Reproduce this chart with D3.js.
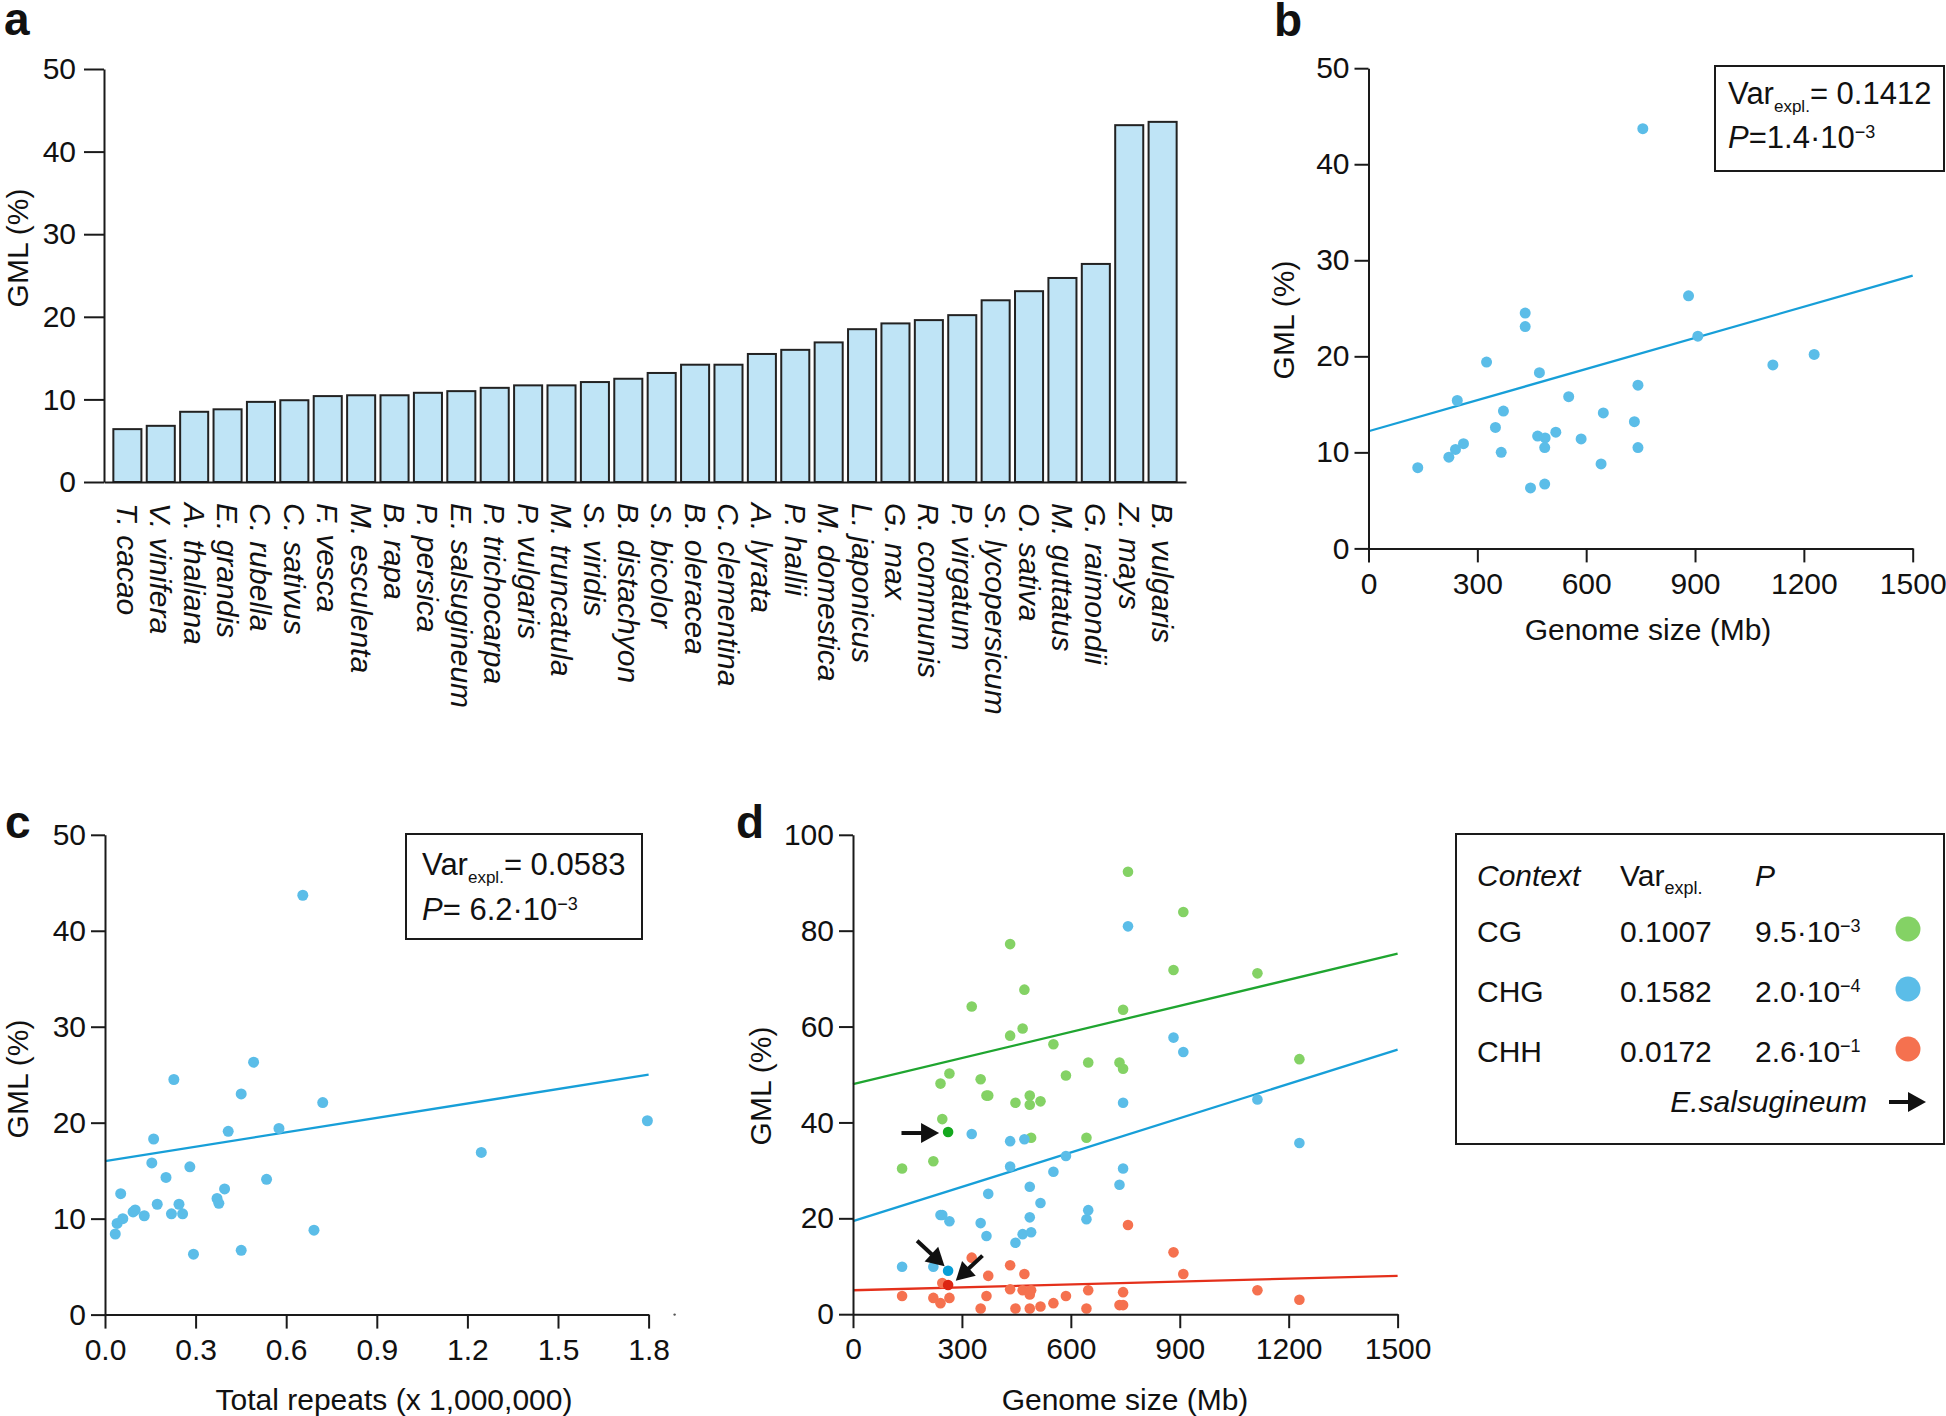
<!DOCTYPE html>
<html><head><meta charset="utf-8">
<script src="https://cdn.jsdelivr.net/npm/d3@7"></script>
<style>
body{margin:0;background:#fff;}
svg{display:block;background:#fff;}
</style></head><body>
<svg id="fig" width="1946" height="1416"></svg>
<script>
// ---------- DATA ----------
const speciesA = ["T. cacao","V. vinifera","A. thaliana","E. grandis","C. rubella","C. sativus","F. vesca","M. esculenta","B. rapa","P. persica","E. salsugineum","P. trichocarpa","P. vulgaris","M. truncatula","S. viridis","B. distachyon","S. bicolor","B. oleracea","C. clementina","A. lyrata","P. hallii","M. domestica","L. japonicus","G. max","R. communis","P. virgatum","S. lycopersicum","O. sativa","M. guttatus","G. raimondii","Z. mays","B. vulgaris"];
const gmlA = [6.4,6.8,8.5,8.8,9.7,9.9,10.4,10.5,10.5,10.8,11.0,11.4,11.7,11.7,12.1,12.5,13.2,14.2,14.2,15.5,16.0,16.9,18.5,19.2,19.6,20.2,22.0,23.1,24.7,26.4,43.2,43.6];
const yTicksGML = [0,10,20,30,40,50];

const genomeB = [135.8,221.5,239.8,261.8,244.7,325.4,349.9,371.9,365.8,431.9,431.9,446.6,471.1,466.2,486.9,485.7,485.7,516.3,551.8,586.1,641.1,647.2,732.9,742.7,742.7,756.1,882.1,907.8,1114.6,1228.4];
const gmlB = [8.4,9.5,10.3,10.9,15.4,19.4,12.6,14.3,10.0,24.5,23.1,6.3,18.3,11.7,11.5,10.5,6.7,12.1,15.8,11.4,8.8,14.1,13.2,17.0,10.5,43.7,26.3,22.1,19.1,20.2];
const fitB = [[0,12.2],[1500,28.4]];
const genomeTicks = [0,300,600,900,1200,1500];

const repeatsC = [0.034,0.040,0.059,0.052,0.093,0.100,0.130,0.155,0.161,0.173,0.202,0.220,0.228,0.245,0.257,0.281,0.293,0.371,0.377,0.396,0.408,0.451,0.451,0.492,0.535,0.576,0.655,0.692,0.721,1.246,1.796];
const gmlC = [8.4,9.5,10.0,12.6,10.7,10.9,10.3,15.8,18.3,11.5,14.3,10.5,24.5,11.5,10.5,15.4,6.3,12.1,11.6,13.1,19.1,23.0,6.7,26.3,14.1,19.4,43.7,8.8,22.1,16.9,20.2];
const fitC = [[0,16.0],[1.8,25.0]];
const repeatTicks = [0,0.3,0.6,0.9,1.2,1.5,1.8];

const genomeD = [135.2,221.3,241.0,245.9,261.9,265.6,327.0,351.6,367.6,372.5,432.8,432.8,447.5,467.2,472.1,486.9,486.9,490.6,516.4,552.0,586.5,643.0,647.9,734.0,743.9,743.9,757.4,882.8,909.8,1113.9,1229.5];
const cgD  = [30.4,31.9,48.1,40.7,38.0,50.2,64.2,49.0,45.6,45.6,77.2,58.1,44.1,59.6,67.7,45.6,43.7,36.8,44.4,56.3,49.8,36.8,52.5,52.5,63.5,51.2,92.3,71.8,83.9,71.1,53.2];
const chgD = [9.9,9.9,20.7,20.7,9.05,19.4,37.6,19.0,16.3,25.1,36.1,30.8,14.9,16.7,36.5,26.6,20.2,17.1,23.2,29.7,33.0,19.8,21.7,27.0,44.1,30.4,80.9,57.7,54.7,44.8,35.7];
const chhD = [3.8,3.4,2.3,6.5,6.1,3.4,11.8,1.2,3.8,8.0,10.2,5.2,1.2,5.0,8.4,4.1,1.2,5.0,1.6,2.3,3.8,1.2,5.0,1.9,1.9,4.6,18.6,12.9,8.4,5.0,3.0];
const highlightIndex = 4; // E. salsugineum
const fitCG  = [[0,48.0],[1500,75.2]];
const fitCHG = [[0,19.4],[1500,55.2]];
const fitCHH = [[0,5.0],[1500,8.0]];
const yTicksD = [0,20,40,60,80,100];

const contexts = ["CG","CHG","CHH"];
const varExpl = ["0.1007","0.1582","0.0172"];
const pMant = ["9.5","2.0","2.6"];
const pExp = ["\u22123","\u22124","\u22121"];

// ---------- STYLE ----------
const FONT = '"Liberation Sans", Arial, Helvetica, sans-serif';
const INK = "#1a1a1a";
const barFill = "#bfe4f6";
const ptBlue = "#5bbde8", lnBlue = "#179fd8", hlBlue = "#0a9fd6";
const ptGreen = "#84d265", lnGreen = "#1fa530", hlGreen = "#14a81e";
const ptRed = "#f5714f", lnRed = "#e4301b", hlRed = "#dc2612";

const svg = d3.select("#fig").attr("font-family", FONT);
const fmtInt = d3.format("d");

function styleAxis(g, size){
  g.attr("font-family", FONT).attr("font-size", size || 30);
  g.selectAll("path,line").attr("stroke", INK).attr("stroke-width", 2);
  g.selectAll("text").attr("fill", "#111");
}
function panelLetter(t, x, y){
  svg.append("text").attr("x", x).attr("y", y).attr("font-size", 46)
    .attr("font-weight", "bold").attr("fill", "#111").text(t);
}
function yTitle(x, y, t){
  svg.append("text").attr("transform", `translate(${x},${y}) rotate(-90)`)
    .attr("text-anchor","middle").attr("font-size",30).attr("fill","#111").text(t);
}
function xTitle(x, y, t){
  svg.append("text").attr("x",x).attr("y",y)
    .attr("text-anchor","middle").attr("font-size",30).attr("fill","#111").text(t);
}
function fitLine(g, x, y, pts, color){
  g.append("line").attr("x1", x(pts[0][0])).attr("y1", y(pts[0][1]))
    .attr("x2", x(pts[1][0])).attr("y2", y(pts[1][1]))
    .attr("stroke", color).attr("stroke-width", 2.3);
}
function arrow(g, x1, y1, x2, y2){
  const dx = x2-x1, dy = y2-y1, L = Math.hypot(dx,dy), ux = dx/L, uy = dy/L;
  const hl = 18, hw = 10;
  g.append("line").attr("x1",x1).attr("y1",y1)
    .attr("x2",x2-ux*hl*0.8).attr("y2",y2-uy*hl*0.8)
    .attr("stroke","#111").attr("stroke-width",4);
  const bx = x2-ux*hl, by = y2-uy*hl;
  g.append("polygon").attr("points",
    `${x2},${y2} ${bx-uy*hw},${by+ux*hw} ${bx+uy*hw},${by-ux*hw}`).attr("fill","#111");
}
function statBox(x, y, w, h, tx, ty1, ty2, varVal, pVal, pExpo, pSep){
  svg.append("rect").attr("x",x).attr("y",y).attr("width",w).attr("height",h)
    .attr("fill","none").attr("stroke",INK).attr("stroke-width",2);
  const t1 = svg.append("text").attr("x",tx).attr("y",ty1).attr("font-size",31).attr("fill","#111");
  t1.append("tspan").text("Var");
  t1.append("tspan").attr("font-size",17).attr("dy",8).text("expl.");
  t1.append("tspan").attr("dy",-8).text("= " + varVal);
  const t2 = svg.append("text").attr("x",tx).attr("y",ty2).attr("font-size",31).attr("fill","#111");
  t2.append("tspan").attr("font-style","italic").text("P");
  t2.append("tspan").text(pSep + pVal + "\u00b710");
  t2.append("tspan").attr("font-size",18).attr("dy",-10).text(pExpo);
}

// ---------- PANEL A ----------
{
  const x = d3.scaleBand().domain(speciesA).range([104,1186]).paddingInner(0.16).paddingOuter(0.28);
  const y = d3.scaleLinear().domain([0,50]).range([482,69]);
  const g = svg.append("g");
  g.selectAll("rect").data(speciesA).join("rect")
    .attr("x", d => x(d)).attr("y", (d,i) => y(gmlA[i]))
    .attr("width", x.bandwidth()).attr("height", (d,i) => y(0)-y(gmlA[i]))
    .attr("fill", barFill).attr("stroke", "#222").attr("stroke-width", 2);
  const ay = g.append("g").attr("transform","translate(104,0)")
    .call(d3.axisLeft(y).tickValues(yTicksGML).tickSize(20).tickPadding(8).tickSizeOuter(0));
  styleAxis(ay);
  const ax = g.append("g").attr("transform",`translate(0,${y(0)})`)
    .call(d3.axisBottom(x).tickSize(0).tickSizeOuter(0).tickFormat(""));
  styleAxis(ax);
  g.selectAll("text.sp").data(speciesA).join("text").attr("class","sp")
    .attr("transform", d => `translate(${x(d)+x.bandwidth()/2},503) rotate(90)`)
    .attr("dy","0.35em").attr("font-size",30).attr("font-style","italic").attr("fill","#111")
    .text(d => d);
  panelLetter("a", 4, 35);
  yTitle(27.5, 248, "GML (%)");
}

// ---------- PANEL B ----------
{
  const x = d3.scaleLinear().domain([0,1500]).range([1368.5,1912.7]);
  const y = d3.scaleLinear().domain([0,50]).range([548.4,68.2]);
  const g = svg.append("g");
  fitLine(g, x, y, fitB, lnBlue);
  g.selectAll("circle").data(genomeB).join("circle")
    .attr("cx", d => x(d)).attr("cy", (d,i) => y(gmlB[i])).attr("r", 5.5).attr("fill", ptBlue);
  styleAxis(g.append("g").attr("transform",`translate(0,${y(0)})`)
    .call(d3.axisBottom(x).tickValues(genomeTicks).tickFormat(fmtInt).tickSize(14).tickPadding(10).tickSizeOuter(0)));
  styleAxis(g.append("g").attr("transform",`translate(${x(0)},0)`)
    .call(d3.axisLeft(y).tickValues(yTicksGML).tickSize(14).tickPadding(5).tickSizeOuter(0)));
  panelLetter("b", 1274, 36);
  yTitle(1294, 320, "GML (%)");
  xTitle(1648, 640, "Genome size (Mb)");
  statBox(1715, 66, 229, 105, 1728, 104, 148, "0.1412", "1.4", "\u22123", "=");
}

// ---------- PANEL C ----------
{
  const x = d3.scaleLinear().domain([0,1.8]).range([105,648.6]);
  const y = d3.scaleLinear().domain([0,50]).range([1314.6,834.8]);
  const g = svg.append("g");
  fitLine(g, x, y, fitC, lnBlue);
  g.selectAll("circle").data(repeatsC).join("circle")
    .attr("cx", d => x(d)).attr("cy", (d,i) => y(gmlC[i])).attr("r", 5.5).attr("fill", ptBlue);
  styleAxis(g.append("g").attr("transform",`translate(0,${y(0)})`)
    .call(d3.axisBottom(x).tickValues(repeatTicks).tickFormat(d3.format(".1f")).tickSize(14).tickPadding(10).tickSizeOuter(0)));
  styleAxis(g.append("g").attr("transform",`translate(${x(0)},0)`)
    .call(d3.axisLeft(y).tickValues(yTicksGML).tickSize(14).tickPadding(5).tickSizeOuter(0)));
  g.append("circle").attr("cx", x(1.8)+26).attr("cy", y(0)).attr("r",1.2).attr("fill","#555");
  panelLetter("c", 5, 838);
  yTitle(27.5, 1079, "GML (%)");
  xTitle(394, 1410, "Total repeats (x 1,000,000)");
  statBox(406, 834, 236, 105, 422, 875, 920, "0.0583", "6.2", "\u22123", "= ");
}

// ---------- PANEL D ----------
{
  const x = d3.scaleLinear().domain([0,1500]).range([853,1397.6]);
  const y = d3.scaleLinear().domain([0,100]).range([1314.2,834.8]);
  const g = svg.append("g");
  fitLine(g, x, y, fitCG, lnGreen);
  fitLine(g, x, y, fitCHG, lnBlue);
  fitLine(g, x, y, fitCHH, lnRed);
  const idx = d3.range(genomeD.length).filter(i => i !== highlightIndex);
  const series = [[cgD, ptGreen], [chgD, ptBlue], [chhD, ptRed]];
  series.forEach(([vals, col]) => {
    g.append("g").selectAll("circle").data(idx).join("circle")
      .attr("cx", i => x(genomeD[i])).attr("cy", i => y(vals[i])).attr("r", 5.3).attr("fill", col);
  });
  // highlighted E. salsugineum
  const hx = x(genomeD[highlightIndex]);
  const hG = y(cgD[highlightIndex]), hB = y(chgD[highlightIndex]), hR = y(chhD[highlightIndex]);
  g.append("circle").attr("cx",hx).attr("cy",hG).attr("r",5.3).attr("fill",hlGreen);
  g.append("circle").attr("cx",hx).attr("cy",hB).attr("r",5.3).attr("fill",hlBlue);
  g.append("circle").attr("cx",hx).attr("cy",hR).attr("r",5.3).attr("fill",hlRed);
  arrow(g, hx-46.6, hG+1, hx-9, hG+1);
  arrow(g, hx-31, hB-30, hx-3.5, hB-4.5);
  arrow(g, hx+34.4, hR-29.3, hx+7.7, hR-4.3);
  styleAxis(g.append("g").attr("transform",`translate(0,${y(0)})`)
    .call(d3.axisBottom(x).tickValues(genomeTicks).tickFormat(fmtInt).tickSize(14).tickPadding(10).tickSizeOuter(0)));
  styleAxis(g.append("g").attr("transform",`translate(${x(0)},0)`)
    .call(d3.axisLeft(y).tickValues(yTicksD).tickSize(14).tickPadding(5).tickSizeOuter(0)));
  panelLetter("d", 736, 838);
  yTitle(771, 1086, "GML (%)");
  xTitle(1125, 1410, "Genome size (Mb)");
}

// ---------- LEGEND ----------
{
  const g = svg.append("g");
  g.append("rect").attr("x",1456).attr("y",834).attr("width",488).attr("height",310)
    .attr("fill","none").attr("stroke",INK).attr("stroke-width",2);
  g.append("text").attr("x",1477).attr("y",886).attr("font-size",30).attr("font-style","italic").attr("fill","#111").text("Context");
  const hv = g.append("text").attr("x",1620).attr("y",886).attr("font-size",30).attr("fill","#111");
  hv.append("tspan").text("Var");
  hv.append("tspan").attr("font-size",18).attr("dy",8).text("expl.");
  g.append("text").attr("x",1755).attr("y",886).attr("font-size",30).attr("font-style","italic").attr("fill","#111").text("P");
  const rowY = [942, 1002, 1062];
  const dotCols = [ptGreen, ptBlue, ptRed];
  contexts.forEach((c,i) => {
    g.append("text").attr("x",1477).attr("y",rowY[i]).attr("font-size",30).attr("fill","#111").text(c);
    g.append("text").attr("x",1620).attr("y",rowY[i]).attr("font-size",30).attr("fill","#111").text(varExpl[i]);
    const pt = g.append("text").attr("x",1755).attr("y",rowY[i]).attr("font-size",30).attr("fill","#111");
    pt.append("tspan").text(pMant[i] + "\u00b710");
    pt.append("tspan").attr("font-size",18).attr("dy",-10).text(pExp[i]);
    g.append("circle").attr("cx",1908).attr("cy",rowY[i]-13).attr("r",12.5).attr("fill",dotCols[i]);
  });
  g.append("text").attr("x",1867).attr("y",1112).attr("text-anchor","end").attr("font-size",30)
    .attr("font-style","italic").attr("fill","#111").text("E.salsugineum");
  arrow(g, 1889, 1102, 1926, 1102);
}
</script>
</body></html>
